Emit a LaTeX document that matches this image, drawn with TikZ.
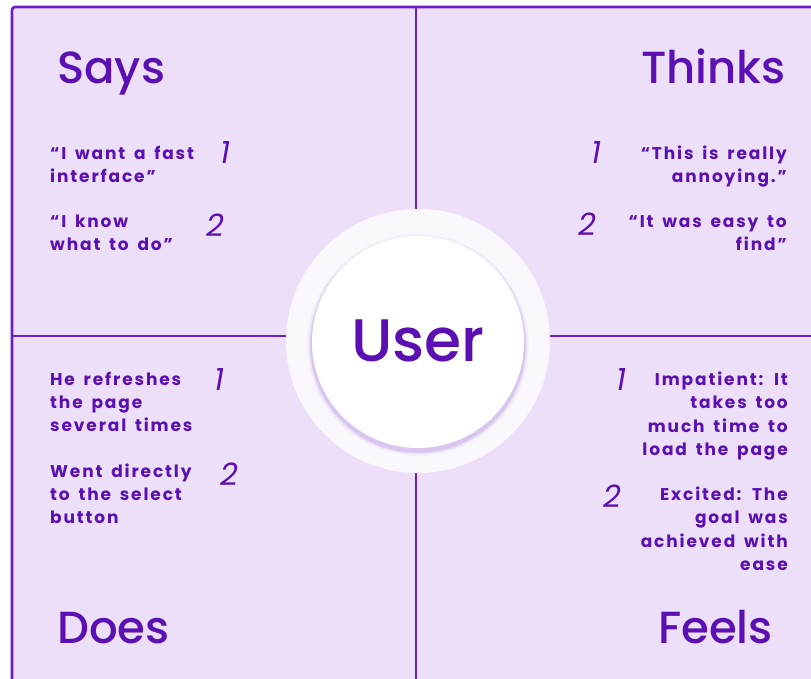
\documentclass[tikz,border=0pt]{standalone}
\usepackage{fontspec}
\setmainfont{Poppins}
\newfontfamily\titlefont{Poppins Medium}
\newfontfamily\bodyfont{Poppins}[LetterSpace=11,WordSpace=1.6]
\newfontfamily\numfont{Poppins}
\definecolor{panelbg}{HTML}{EEDFF8}
\definecolor{linec}{HTML}{6A1FC6}
\definecolor{textc}{HTML}{5A10B3}
\definecolor{ringc}{HTML}{FAF8FD}
\tikzset{
  title/.style={text=textc,font=\titlefont\fontsize{45}{45}\selectfont,inner sep=0pt},
  body/.style={text=textc,font=\bodyfont\bfseries\fontsize{17}{17}\selectfont,inner sep=0pt},
  num/.style={text=textc,font=\numfont\itshape\fontsize{31}{31}\selectfont,inner sep=0pt},
  divider/.style={draw=linec,line width=2.6pt}
}
\begin{document}
\begin{tikzpicture}[x=1pt,y=-1pt]
\useasboundingbox (0,0) rectangle (811,679);
\fill[white] (0,0) rectangle (811,679);
% panels
\fill[panelbg,rounded corners=3pt] (12,7) rectangle (830,700);
\draw[divider,rounded corners=3pt] (830,7) -- (12,7) -- (12,700);
\coordinate (vt) at (416,7);
\coordinate (vb) at (416,679);
\coordinate (hl) at (12,336);
\coordinate (hr) at (811,336);
\draw[divider] (vt) -- (vb);
\draw[divider] (hl) -- (hr);
% centre circles
\node[circle,minimum size=264pt,inner sep=0pt,fill=ringc] (ring) at (418,341) {};
\foreach \r/\o in {111/0.03,109.5/0.05,108.5/0.07,107.5/0.09}{
  \fill[linec,opacity=\o] (418,345) circle (\r);
}
\node[circle,minimum size=212pt,inner sep=0pt,fill=white] (user) at (418,342) {};
\node[text=textc,font=\titlefont\fontsize{60}{60}\selectfont,inner sep=0pt] (usert) at (418,341) {User};
% titles
\node[title,anchor=base west] (says) at (57,84) {Says};
\node[title,anchor=base east] (thinks) at (786,84) {Thinks};
\node[title,anchor=base west] (does) at (57,643) {Does};
\node[title,anchor=base east] (feels) at (773,643) {Feels};
% Says
\node[body,anchor=base west] (sa1) at (50,160) {“I want a fast};
\node[body,anchor=base west] (sa2) at (50,183) {interface”};
\node[num] (sn1) at (225,153) {1};
\node[body,anchor=base west] (sb1) at (50,228) {“I know};
\node[body,anchor=base west] (sb2) at (50,251) {what to do”};
\node[num] (sn2) at (215,225) {2};
% Thinks
\node[body,anchor=base east] (ta1) at (787,160) {“This is really};
\node[body,anchor=base east] (ta2) at (787,183) {annoying.”};
\node[num] (tn1) at (596,153) {1};
\node[body,anchor=base east] (tb1) at (787,228) {“It was easy to};
\node[body,anchor=base east] (tb2) at (787,251) {find”};
\node[num] (tn2) at (587,224) {2};
% Does
\node[body,anchor=base west] (da1) at (50,385) {He refreshes};
\node[body,anchor=base west] (da2) at (50,408) {the page};
\node[body,anchor=base west] (da3) at (50,431) {several times};
\node[num] (dn1) at (219,380) {1};
\node[body,anchor=base west] (db1) at (50,477) {Went directly};
\node[body,anchor=base west] (db2) at (50,500) {to the select};
\node[body,anchor=base west] (db3) at (50,523) {button};
\node[num] (dn2) at (229,474) {2};
% Feels
\node[body,anchor=base east] (fa1) at (788,385) {Impatient: It};
\node[body,anchor=base east] (fa2) at (788,408) {takes too};
\node[body,anchor=base east] (fa3) at (788,432) {much time to};
\node[body,anchor=base east] (fa4) at (788,455) {load the page};
\node[num] (fn1) at (621,380) {1};
\node[body,anchor=base east] (fb1) at (788,500) {Excited: The};
\node[body,anchor=base east] (fb2) at (788,523) {goal was};
\node[body,anchor=base east] (fb3) at (788,547) {achieved with};
\node[body,anchor=base east] (fb4) at (788,570) {ease};
\node[num] (fn2) at (612,496) {2};
\end{tikzpicture}
\end{document}
